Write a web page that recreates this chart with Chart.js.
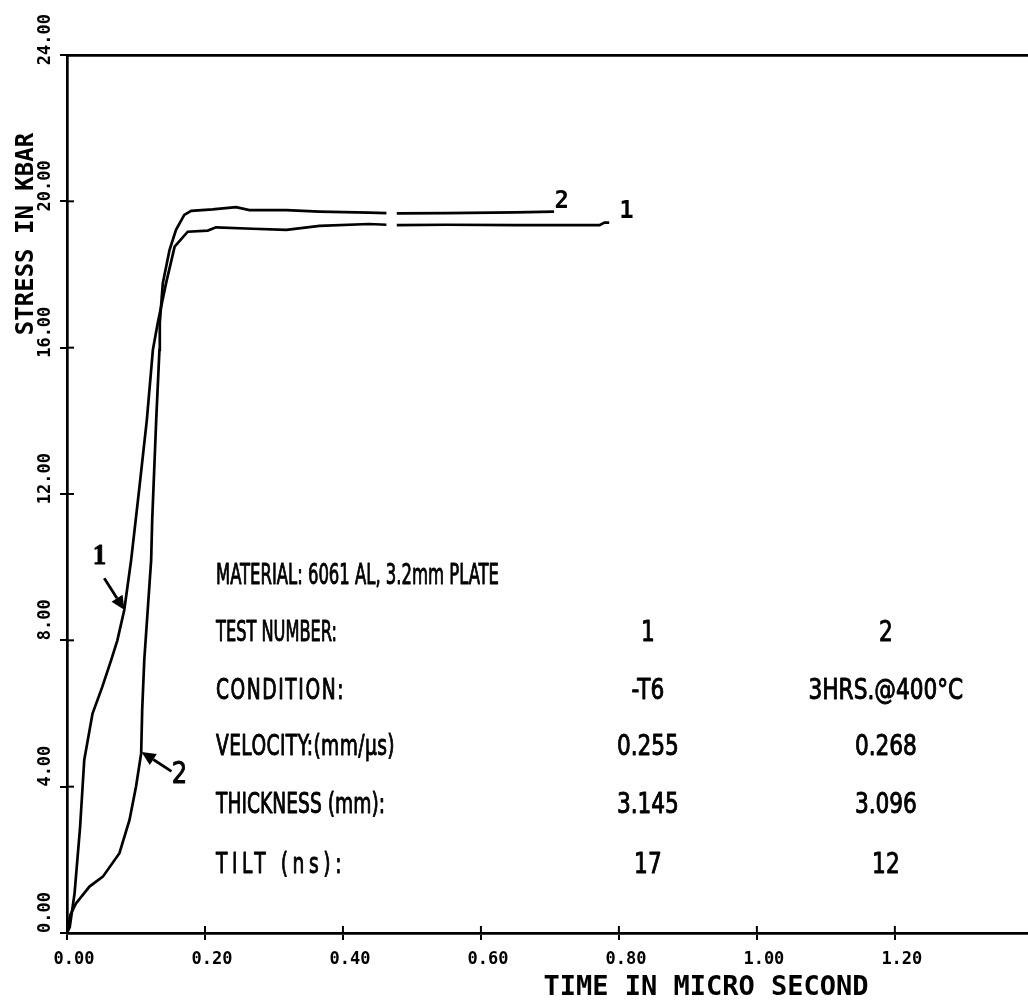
<!DOCTYPE html>
<html><head><meta charset="utf-8">
<script src="https://cdn.jsdelivr.net/npm/chart.js@4.4.1/dist/chart.umd.min.js"></script>
<style>html,body{margin:0;padding:0;background:#fff;}canvas{display:block;}</style>
</head><body>
<canvas id="c" width="1028" height="1000"></canvas>
<script>
// ---- data ----
const test1Time   = [0,0.004,0.011,0.019,0.025,0.037,0.051,0.064,0.073,0.083,0.093,0.105,0.1157,0.1245,0.1316,0.1437,0.156,0.175,0.204,0.216,0.269,0.318,0.366,0.438,0.463,0.47,0.478,0.55,0.65,0.772,0.779,0.786];
const test1Stress = [0,0.16,1.09,2.9,4.73,6.0,6.72,7.46,8.0,8.83,10.2,12.19,14.02,15.94,16.68,17.77,18.76,19.17,19.2,19.29,19.25,19.22,19.33,19.38,19.36,null,19.35,19.36,19.35,19.35,19.42,19.42];
const test2Time   = [0,0.005,0.013,0.0326,0.052,0.076,0.0906,0.1,0.1075,0.109,0.112,0.117,0.122,0.1235,0.1293,0.134,0.1345,0.1389,0.1486,0.158,0.17,0.18,0.211,0.245,0.2645,0.318,0.366,0.438,0.463,0.47,0.478,0.55,0.65,0.706];
const test2Stress = [0,0.5,0.81,1.27,1.54,2.18,3.09,4.0,4.91,6.1,7.46,8.83,10.2,11.29,14.02,15.94,16.68,17.76,18.67,19.22,19.63,19.74,19.78,19.84,19.76,19.76,19.72,19.69,19.68,null,19.67,19.68,19.7,19.72];
const xTickStep = 0.2;
const yTickStep = 4;
const xTitle = 'TIME IN MICRO SECOND';
const yTitle = 'STRESS IN KBAR';
const tableLabels = ['MATERIAL: 6061 AL, 3.2mm PLATE','TEST NUMBER:','CONDITION:','VELOCITY:(mm/\u03BCs)','THICKNESS (mm):','TILT (ns):'];
const tableCol1   = ['','1','-T6','0.255','3.145','17'];
const tableCol2   = ['','2','3HRS.@400\u00B0C','0.268','3.096','12'];
const curveNames  = ['1','2'];

// ---- layout of annotations ----
const tableRowY = [9.73,8.17,6.59,5.06,3.47,1.83];          // kbar
const tableLabelX = 0.216, tableCol1X = 0.842, tableCol2X = 1.187; // microseconds
const tableLabelWidthPx = [283,121,129,179,169,130];
const arrowText = [[0.047,10.3],[0.163,4.3]];
const arrowFrom = [[0.054,9.7],[0.1515,4.42]];
const arrowTo   = [[0.0834,8.83],[0.108,4.95]];
const endText   = [[0.811,19.71],[0.717,19.98]];

const pts = (xs, ys) => xs.map((x,i)=>({x:x, y:ys[i]}));
const MONO = "'DejaVu Sans Mono', 'Liberation Mono', monospace";
const COND = "'Liberation Sans Narrow', 'DejaVu Sans Condensed', 'Liberation Sans', sans-serif";
const SX = 0.74, SXV = 0.86;

function paint(ctx, str){ ctx.fillText(str,0,0); ctx.strokeText(str,0,0); }
function condText(ctx, str, x, y, align, sx){
  ctx.save(); ctx.translate(x,y); ctx.scale(sx,1);
  ctx.textAlign = align; ctx.textBaseline = 'middle'; paint(ctx, str); ctx.restore();
}
function fitText(ctx, str, x, y, target){
  const nat = ctx.measureText(str).width;
  ctx.save(); ctx.translate(x,y);
  let sx = SX, ls = (target/SX - nat)/str.length;
  if (ls < 0) { sx = target/nat; ls = 0; }
  ctx.scale(sx,1);
  if ('letterSpacing' in ctx) ctx.letterSpacing = ls + 'px';
  ctx.textAlign='left'; ctx.textBaseline='middle'; paint(ctx, str); ctx.restore();
}

const overlay = {
  id:'overlay',
  beforeDraw(chart){
    const c = chart.ctx; c.save(); c.fillStyle='#fff'; c.fillRect(0,0,chart.width,chart.height); c.restore();
  },
  afterDraw(chart){
    const ctx = chart.ctx, xs = chart.scales.x, ys = chart.scales.y, a = chart.chartArea;
    ctx.save();
    ctx.strokeStyle = '#000'; ctx.fillStyle = '#000'; ctx.lineWidth = 2;
    // inner half of the cross tick marks
    xs.ticks.forEach(t=>{ const px = xs.getPixelForValue(t.value); ctx.beginPath(); ctx.moveTo(px,a.bottom); ctx.lineTo(px,a.bottom-7); ctx.stroke(); });
    ys.ticks.forEach(t=>{ const py = ys.getPixelForValue(t.value); ctx.beginPath(); ctx.moveTo(a.left,py); ctx.lineTo(a.left+7,py); ctx.stroke(); });
    // axis titles
    ctx.font = 'bold 27px ' + MONO; ctx.textAlign='center'; ctx.textBaseline='alphabetic';
    ctx.fillText(xTitle, 706, 995);
    ctx.save(); ctx.translate(33, 234); ctx.rotate(-Math.PI/2);
    ctx.font = 'bold 24px ' + MONO; ctx.fillText(yTitle, 0, 0); ctx.restore();
    // table (regular weight, slightly emboldened)
    ctx.font = '28px ' + COND; ctx.lineWidth = 0.9; ctx.lineJoin = 'round';
    tableLabels.forEach((lab,i)=>{
      const py = ys.getPixelForValue(tableRowY[i]);
      fitText(ctx, lab, xs.getPixelForValue(tableLabelX), py, tableLabelWidthPx[i]);
      if (tableCol1[i]) condText(ctx, tableCol1[i], xs.getPixelForValue(tableCol1X), py, 'center', SXV);
      if (tableCol2[i]) condText(ctx, tableCol2[i], xs.getPixelForValue(tableCol2X), py, 'center', SXV);
    });
    // arrows with labels
    curveNames.forEach((n,i)=>{
      const x0 = xs.getPixelForValue(arrowFrom[i][0]), y0 = ys.getPixelForValue(arrowFrom[i][1]);
      const x1 = xs.getPixelForValue(arrowTo[i][0]),   y1 = ys.getPixelForValue(arrowTo[i][1]);
      const ang = Math.atan2(y1-y0, x1-x0), L = 14, W = 6.5;
      const bx = x1 - L*Math.cos(ang), by = y1 - L*Math.sin(ang);
      ctx.lineWidth = 2.8; ctx.beginPath(); ctx.moveTo(x0,y0); ctx.lineTo(bx,by); ctx.stroke();
      ctx.beginPath(); ctx.moveTo(x1,y1);
      ctx.lineTo(bx + W*Math.sin(ang), by - W*Math.cos(ang));
      ctx.lineTo(bx - W*Math.sin(ang), by + W*Math.cos(ang)); ctx.closePath(); ctx.fill();
      ctx.lineWidth = 0.9;
      ctx.font = (i === 0 ? "bold 30px 'Liberation Serif', serif" : '30px ' + COND);
      condText(ctx, n, xs.getPixelForValue(arrowText[i][0]), ys.getPixelForValue(arrowText[i][1]), 'center', 0.9);
    });
    // labels at curve ends
    ctx.font = 'bold 24px ' + MONO; ctx.textAlign='center'; ctx.textBaseline='middle';
    curveNames.forEach((n,i)=>{
      ctx.fillText(n, xs.getPixelForValue(endText[i][0]), ys.getPixelForValue(endText[i][1]));
    });
    ctx.restore();
  }
};

new Chart(document.getElementById('c'), {
  type:'line',
  data:{ datasets:[
    { label:'Test 1', data: pts(test1Time,test1Stress), borderColor:'#000', borderWidth:2.7, pointRadius:0, tension:0, spanGaps:false, fill:false },
    { label:'Test 2', data: pts(test2Time,test2Stress), borderColor:'#000', borderWidth:2.7, pointRadius:0, tension:0, spanGaps:false, fill:false }
  ]},
  options:{
    responsive:false, animation:false, devicePixelRatio:1,
    layout:{ padding:{ top:55, left:0, right:0, bottom:0 } },
    plugins:{ legend:{display:false}, tooltip:{enabled:false} },
    scales:{
      x:{ type:'linear', position:'bottom', min:0, max:1.393,
        ticks:{ stepSize:xTickStep, includeBounds:false, autoSkip:false, maxRotation:0, padding:9, labelOffset:7,
          color:'#000', font:{family:MONO, size:17, weight:'bold'}, callback:v=>Number(v).toFixed(2) },
        grid:{ drawOnChartArea:false, tickLength:7, color:'#000', lineWidth:2 },
        border:{ display:true, color:'#000', width:2.7 },
        afterFit:s=>{ s.height = 67; } },
      x2:{ type:'linear', position:'top', min:0, max:1,
        ticks:{ display:false }, grid:{ display:false, drawTicks:false },
        border:{ display:true, color:'#000', width:2.7 },
        afterFit:s=>{ s.height = 0; } },
      y:{ type:'linear', position:'left', min:0, max:24,
        ticks:{ stepSize:yTickStep, minRotation:90, maxRotation:90, padding:14, labelOffset:-41,
          color:'#000', font:{family:MONO, size:17, weight:'bold'}, callback:v=>Number(v).toFixed(2) },
        grid:{ drawOnChartArea:false, tickLength:7, color:'#000', lineWidth:2 },
        border:{ display:true, color:'#000', width:2.7 },
        afterFit:s=>{ s.width = 67; } }
    }
  },
  plugins:[overlay]
});
</script>
</body></html>
